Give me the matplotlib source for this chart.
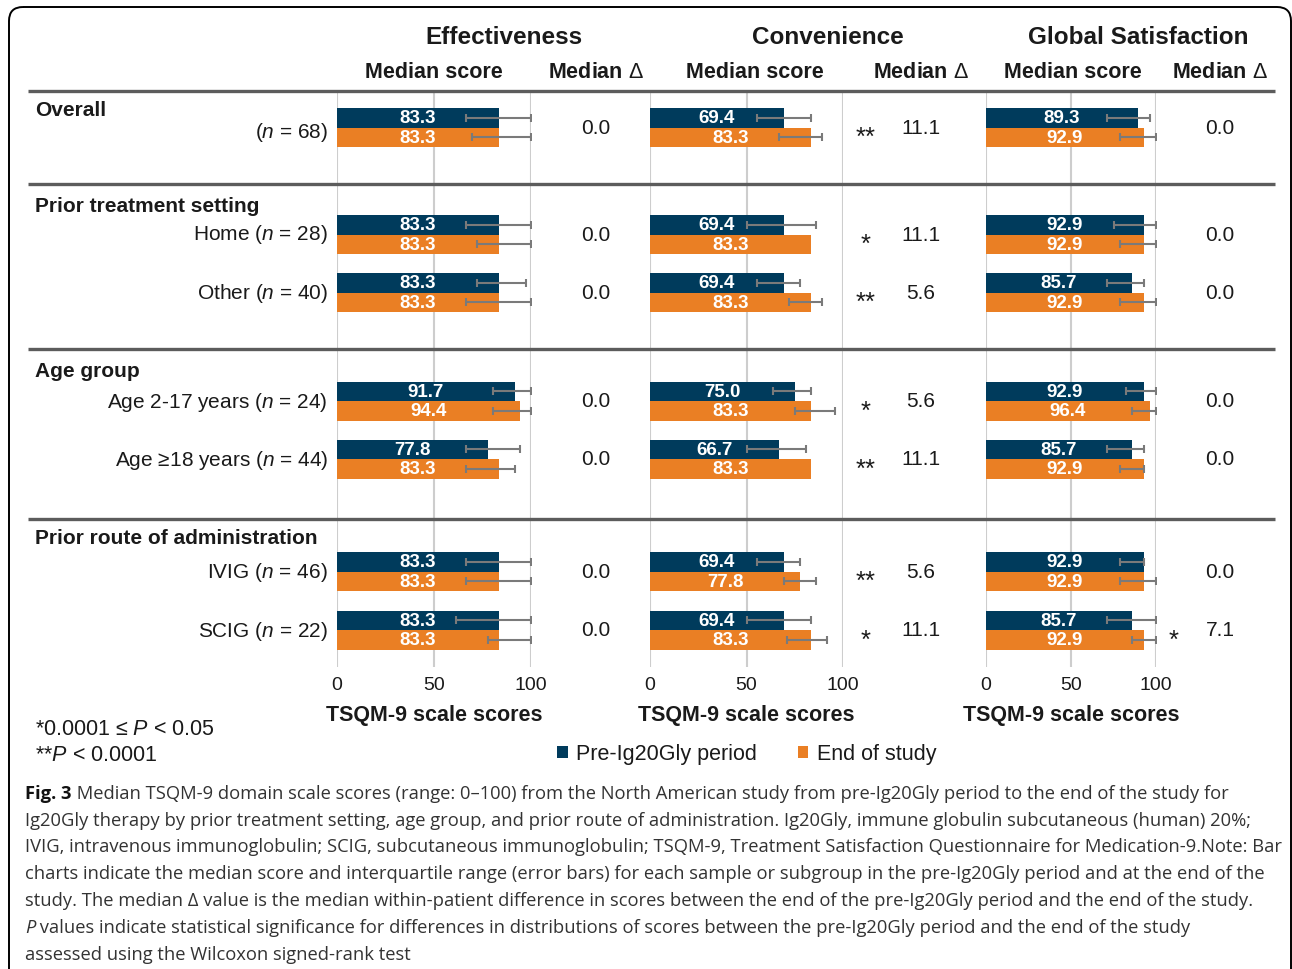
import numpy as np
import matplotlib
matplotlib.use("Agg")
import matplotlib.pyplot as plt
from matplotlib.patches import FancyBboxPatch, Patch

plt.rcParams['font.family'] = ['Liberation Sans', 'DejaVu Sans']
plt.rcParams['mathtext.fontset'] = 'custom'
plt.rcParams['mathtext.rm'] = 'Liberation Sans'
plt.rcParams['mathtext.it'] = 'Liberation Sans:italic'
plt.rcParams['mathtext.bf'] = 'Liberation Sans:bold'

# ---------------- data ----------------
domains = ["Effectiveness", "Convenience", "Global Satisfaction"]
group_names = ["Overall", "Prior treatment setting", "Age group",
               "Prior route of administration"]
row_labels = ["($n$ = 68)", "Home ($n$ = 28)", "Other ($n$ = 40)",
              "Age 2-17 years ($n$ = 24)", "Age \u226518 years ($n$ = 44)",
              "IVIG ($n$ = 46)", "SCIG ($n$ = 22)"]
series_names = ["Pre-Ig20Gly period", "End of study"]

eff_pre = [83.3, 83.3, 83.3, 91.7, 77.8, 83.3, 83.3]
eff_pre_q1 = [66.7, 66.7, 72.2, 80.6, 66.7, 66.7, 61.1]
eff_pre_q3 = [100, 100, 97.2, 100, 94.4, 100, 100]
eff_end = [83.3, 83.3, 83.3, 94.4, 83.3, 83.3, 83.3]
eff_end_q1 = [69.4, 72.2, 66.7, 80.6, 66.7, 66.7, 77.8]
eff_end_q3 = [100, 100, 100, 100, 91.7, 100, 100]
eff_delta = [0.0, 0.0, 0.0, 0.0, 0.0, 0.0, 0.0]
eff_sig = ["", "", "", "", "", "", ""]

conv_pre = [69.4, 69.4, 69.4, 75.0, 66.7, 69.4, 69.4]
conv_pre_q1 = [55.6, 50.0, 55.6, 63.9, 50.0, 55.6, 50.0]
conv_pre_q3 = [83.3, 86.1, 77.8, 83.3, 80.6, 77.8, 83.3]
conv_end = [83.3, 83.3, 83.3, 83.3, 83.3, 77.8, 83.3]
conv_end_q1 = [66.7, None, 72.2, 75.0, None, 69.4, 70.8]
conv_end_q3 = [88.9, None, 88.9, 95.8, None, 86.1, 91.7]
conv_delta = [11.1, 11.1, 5.6, 5.6, 11.1, 5.6, 11.1]
conv_sig = ["**", "*", "**", "*", "**", "**", "*"]

glob_pre = [89.3, 92.9, 85.7, 92.9, 85.7, 92.9, 85.7]
glob_pre_q1 = [71.4, 75.0, 71.4, 82.1, 71.4, 78.6, 71.4]
glob_pre_q3 = [96.4, 100, 92.9, 100, 92.9, 92.9, 100]
glob_end = [92.9, 92.9, 92.9, 96.4, 92.9, 92.9, 92.9]
glob_end_q1 = [78.6, 78.6, 78.6, 85.7, 78.6, 78.6, 85.7]
glob_end_q3 = [100, 100, 100, 100, 92.9, 100, 100]
glob_delta = [0.0, 0.0, 0.0, 0.0, 0.0, 0.0, 7.1]
glob_sig = ["", "", "", "", "", "", "*"]

ticks = [0, 50, 100]

caption_lines = [
    "Median TSQM-9 domain scale scores (range: 0\u2013100) from the North American study from pre-Ig20Gly period to the end of the study for",
    "Ig20Gly therapy by prior treatment setting, age group, and prior route of administration. Ig20Gly, immune globulin subcutaneous (human) 20%;",
    "IVIG, intravenous immunoglobulin; SCIG, subcutaneous immunoglobulin; TSQM-9, Treatment Satisfaction Questionnaire for Medication-9.Note: Bar",
    "charts indicate the median score and interquartile range (error bars) for each sample or subgroup in the pre-Ig20Gly period and at the end of the",
    "study. The median \u0394 value is the median within-patient difference in scores between the end of the pre-Ig20Gly period and the end of the study.",
    " values indicate statistical significance for differences in distributions of scores between the pre-Ig20Gly period and the end of the study",
    "assessed using the Wilcoxon signed-rank test",
]

panels = [
    (eff_pre, eff_pre_q1, eff_pre_q3, eff_end, eff_end_q1, eff_end_q3, eff_delta, eff_sig),
    (conv_pre, conv_pre_q1, conv_pre_q3, conv_end, conv_end_q1, conv_end_q3, conv_delta, conv_sig),
    (glob_pre, glob_pre_q1, glob_pre_q3, glob_end, glob_end_q1, glob_end_q3, glob_delta, glob_sig),
]

# ---------------- layout (pixels) ----------------
W, H = 1292, 970
NAVY = "#003b5c"
ORANGE = "#ea7f24"
ERR = "#7a7a7a"
TXT = "#1a1a1a"

panel_x = [(337, 531), (650, 843), (986, 1156)]
score_hdr_x = [434, 755, 1073]
delta_x = [596, 921, 1220]
star_x = [None, 866, 1174]
domain_x = [504, 828, 1138]
axes_top, axes_bot = 92, 668
row_y = [128.5, 235.5, 293.5, 402, 460, 572.5, 631]
label_y = [131, 233, 292, 401, 459, 571, 630]
group_y = [111, 206, 372, 539]
sep_y = [92, 185, 350, 520]
bar_h = 19.5

fig = plt.figure(figsize=(W / 100, H / 100), dpi=100)
fig.patch.set_facecolor("white")

for k, (x0, x1) in enumerate(panel_x):
    pre, pq1, pq3, end, eq1, eq3, delta, sig = panels[k]
    ax = fig.add_axes([x0 / W, 1 - axes_bot / H, (x1 - x0) / W, (axes_bot - axes_top) / H])
    ax.set_xlim(0, 100)
    ax.set_ylim(axes_bot, axes_top)
    ax.set_facecolor("none")
    for s in ax.spines.values():
        s.set_visible(False)
    ax.set_yticks([])
    ax.set_xticks(ticks)
    ax.set_xticklabels([str(t) for t in ticks])
    ax.tick_params(axis="x", length=0, pad=6.5, labelsize=14, labelcolor=TXT)
    for t in ticks:
        ax.axvline(t, color="#cdcdcd", lw=1.5, zorder=0)

    y = np.array(row_y)
    y_pre = y - bar_h / 2
    y_end = y + bar_h / 2
    ax.barh(y_pre, pre, height=bar_h, color=NAVY, zorder=2)
    ax.barh(y_end, end, height=bar_h, color=ORANGE, zorder=2)

    for yy, med, lo, hi in list(zip(y_pre, pre, pq1, pq3)) + list(zip(y_end, end, eq1, eq3)):
        if lo is None or hi is None:
            continue
        ax.errorbar(med, yy, xerr=[[med - lo], [hi - med]], fmt="none",
                    ecolor=ERR, elinewidth=1.5, capsize=3.2, capthick=1.5, zorder=3)

    for yy, v in zip(y_pre, pre):
        ax.text(v / 2, yy, f"{v:.1f}", ha="center", va="center", color="white",
                fontsize=13.5, fontweight="bold", zorder=4)
    for yy, v in zip(y_end, end):
        ax.text(v / 2, yy, f"{v:.1f}", ha="center", va="center", color="white",
                fontsize=13.5, fontweight="bold", zorder=4)

    ax.set_xlabel("TSQM-9 scale scores", fontsize=15.5, fontweight="bold",
                  color=TXT, labelpad=8)

# overlay canvas in pixel units for the table text and rules
bg = fig.add_axes([0, 0, 1, 1], zorder=5)
bg.set_xlim(0, W)
bg.set_ylim(H, 0)
bg.axis("off")
bg.patch.set_visible(False)

bg.add_patch(FancyBboxPatch((9, 8), 1282, 1000, boxstyle="round,pad=0,rounding_size=14",
                            fc="none", ec="black", lw=1.4, clip_on=False))

bg.hlines(sep_y, 28, 1275, color="#5c5c5c", lw=2.4)

for k in range(3):
    bg.text(domain_x[k], 37, domains[k], ha="center", va="center", fontsize=17.5,
            fontweight="bold", color=TXT)
    bg.text(score_hdr_x[k], 73, "Median score", ha="center", va="center", fontsize=15.5,
            fontweight="bold", color=TXT)
    bg.text(delta_x[k], 73, "Median $\\Delta$", ha="center", va="center", fontsize=15.5,
            fontweight="bold", color=TXT)
    delta, sig = panels[k][6], panels[k][7]
    for yy, d, s in zip(row_y, delta, sig):
        bg.text(delta_x[k], yy + 5.5, f"{d:.1f}", ha="center", va="baseline",
                fontsize=15, color=TXT)
        if s and star_x[k] is not None:
            bg.text(star_x[k], yy + 16.5, s, ha="center", va="baseline",
                    fontsize=18.5, color=TXT)

for gy, name in zip(group_y, group_names):
    bg.text(35, gy, name, ha="left", va="center", fontsize=15, fontweight="bold", color=TXT)
for ly, lab in zip(label_y, row_labels):
    bg.text(328, ly + 7.5, lab, ha="right", va="baseline", fontsize=15, color=TXT)

bg.text(35, 735, "*0.0001 \u2264 $P$ < 0.05", ha="left", va="baseline", fontsize=15.5, color=TXT)
bg.text(35, 761, "**$P$ < 0.0001", ha="left", va="baseline", fontsize=15.5, color=TXT)

handles = [Patch(facecolor=NAVY, edgecolor="none"), Patch(facecolor=ORANGE, edgecolor="none")]
fig.legend(handles, series_names, loc="center", bbox_to_anchor=(747 / W, 1 - 755 / H),
           ncol=2, frameon=False, fontsize=15.5, handlelength=0.48, handleheight=0.48,
           handletextpad=0.4, columnspacing=1.9, labelcolor=TXT)

# caption
cap_font = "Open Sans"
cap_color = "#333333"
cap_size = 13.0
baselines = [799, 826, 852, 879, 906, 933, 960]
cap_x = 25

def caption_texts(size):
    rows = []
    t0 = bg.text(cap_x, baselines[0], "Fig. 3", family=cap_font, fontweight="bold",
                 fontsize=size, color="#111111", va="baseline")
    t1 = bg.annotate(" " + caption_lines[0], xy=(1, 0), xycoords=t0, va="bottom", ha="left",
                     family=cap_font, fontsize=size, color=cap_color)
    rows.append((t0, t1))
    for i in range(1, 7):
        if i == 5:
            tp = bg.text(cap_x, baselines[i], "P", family=cap_font, style="italic",
                         fontsize=size, color=cap_color, va="baseline")
            tr = bg.annotate(caption_lines[i], xy=(1, 0), xycoords=tp, va="bottom", ha="left",
                             family=cap_font, fontsize=size, color=cap_color)
            rows.append((tp, tr))
        else:
            t = bg.text(cap_x, baselines[i], caption_lines[i], family=cap_font,
                        fontsize=size, color=cap_color, va="baseline")
            rows.append((t, t))
    return rows

rows = caption_texts(cap_size)
fig.canvas.draw()
r = fig.canvas.get_renderer()
widest = max(b.get_window_extent(r).x1 for a, b in rows) - cap_x
target = 1278 - cap_x
for a, b in rows:
    a.remove()
    if b is not a:
        b.remove()
caption_texts(cap_size * target / widest)

fig.savefig("out.png", dpi=100, facecolor="white")
